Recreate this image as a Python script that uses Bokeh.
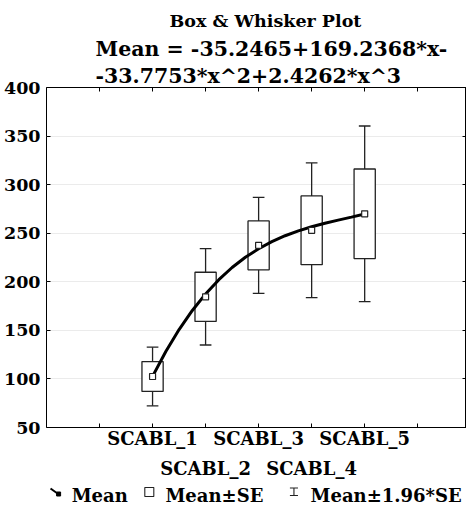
from bokeh.plotting import figure
from bokeh.layouts import column
from bokeh.models import (LinearAxis, FixedTicker, Range1d, Title)
from bokeh.core.properties import value
from bokeh.embed import file_html
from bokeh.resources import INLINE

# ---- data ----
categories = ["SCABL_1", "SCABL_2", "SCABL_3", "SCABL_4", "SCABL_5"]
positions = [1, 2, 3, 4, 5]
means = [102.5, 184.5, 237.5, 253.0, 270.0]
se = [15.4, 25.3, 25.2, 35.4, 46.1]
fit_x = [1.0, 1.25, 1.5, 1.75, 2.0, 2.25, 2.5, 2.75, 3.0,
         3.25, 3.5, 3.75, 4.0, 4.25, 4.5, 4.75, 5.0]
fit_y = [102.6, 128.3, 150.8, 170.5, 187.5, 202.2, 214.7, 225.2, 234.0,
         241.3, 247.4, 252.4, 256.6, 260.2, 263.5, 266.6, 269.8]
y_ticks = [50, 100, 150, 200, 250, 300, 350, 400]
x_ticks = [0, 1, 2, 3, 4, 5, 6]
title_lines = ["Box & Whisker Plot",
               "Mean = -35.2465+169.2368*x-",
               "-33.7753*x^2+2.4262*x^3"]
legend_labels = ["Mean", "Mean±SE", "Mean±1.96*SE"]

FONT = "DejaVu Serif"
INK = "#222222"

p = figure(width=466, height=481, x_range=Range1d(-1, 6.92), y_range=Range1d(50, 400),
           output_backend="svg", toolbar_location=None,
           min_border_left=46, min_border_right=0, min_border_top=87, min_border_bottom=0)
p.outline_line_color = "black"
p.outline_line_width = 1
p.background_fill_color = "white"
p.xgrid.visible = False
p.ygrid.ticker = FixedTicker(ticks=y_ticks)
p.ygrid.grid_line_color = "#ebebeb"

# y axis
ya = p.yaxis[0]
ya.ticker = FixedTicker(ticks=y_ticks)
ya.axis_line_color = None
ya.major_tick_in = 4
ya.major_tick_out = 0
ya.minor_tick_in = 0
ya.minor_tick_out = 0
ya.major_label_standoff = 6
ya.major_label_text_font = FONT
ya.major_label_text_font_style = "bold"
ya.major_label_text_font_size = "17.5px"
ya.major_label_text_color = "black"

# bottom axis row 1
xa = p.xaxis[0]
xa.ticker = FixedTicker(ticks=x_ticks)
xa.major_label_overrides = {0: "", 1: categories[0], 2: "", 3: categories[2], 4: "",
                            5: categories[4], 6: ""}
xa.axis_line_color = None
xa.major_tick_in = 4
xa.major_tick_out = 0
xa.minor_tick_in = 0
xa.minor_tick_out = 0
xa.major_label_standoff = 0
xa.major_label_text_font = FONT
xa.major_label_text_font_style = "bold"
xa.major_label_text_font_size = "18px"
xa.major_label_text_color = "black"

# bottom axis row 2
xa2 = LinearAxis(ticker=FixedTicker(ticks=[2, 4]),
                 major_label_overrides={2: categories[1], 4: categories[3]},
                 axis_line_color=None, major_tick_in=0, major_tick_out=0,
                 minor_tick_in=0, minor_tick_out=0, major_label_standoff=6,
                 major_label_text_font=FONT, major_label_text_font_style="bold",
                 major_label_text_font_size="18px", major_label_text_color="black")
p.add_layout(xa2, "below")

# top and right tick-only axes
top = LinearAxis(ticker=FixedTicker(ticks=x_ticks), axis_line_color=None,
                 major_tick_in=4, major_tick_out=0, minor_tick_in=0, minor_tick_out=0,
                 major_label_text_font_size="0px", major_label_standoff=7)
p.add_layout(top, "above")
right = LinearAxis(ticker=FixedTicker(ticks=y_ticks), axis_line_color=None,
                   major_tick_in=4, major_tick_out=0, minor_tick_in=0, minor_tick_out=0,
                   major_label_text_font_size="0px", major_label_standoff=0)
p.add_layout(right, "right")

# titles: p.title is outermost; added ones stack outward from the frame
p.title.text = title_lines[0]
p.title.align = "left"
p.title.offset = 123
p.title.standoff = 7
p.title.text_font = FONT
p.title.text_font_style = "bold"
p.title.text_font_size = "17.5px"
p.title.text_color = "black"
for line, so in [(title_lines[2], 0), (title_lines[1], 1)]:
    p.add_layout(Title(text=line, align="left", offset=49, standoff=so, text_font=FONT,
                       text_font_style="bold", text_font_size="20.5px",
                       text_color="black"), "above")

# boxes and whiskers
lo_se = [m - s for m, s in zip(means, se)]
hi_se = [m + s for m, s in zip(means, se)]
lo_ci = [m - 1.96 * s for m, s in zip(means, se)]
hi_ci = [m + 1.96 * s for m, s in zip(means, se)]
bw = 0.2
cw = 0.11

p.segment(x0=positions + positions, x1=positions + positions,
          y0=hi_se + lo_se, y1=hi_ci + lo_ci, line_color=INK, line_width=1.3)
p.segment(x0=[x - cw for x in positions] * 2, x1=[x + cw for x in positions] * 2,
          y0=hi_ci + lo_ci, y1=hi_ci + lo_ci, line_color=INK, line_width=1.3)
p.quad(left=[x - bw for x in positions], right=[x + bw for x in positions],
       bottom=lo_se, top=hi_se, fill_color="white", line_color=INK, line_width=1.3)

p.line(fit_x, fit_y, line_color="black", line_width=3)
p.scatter(positions, means, marker="square", size=6, fill_color="white",
          line_color=INK, line_width=1.2)

# legend strip: its frame lines up with the main frame (page x 50 .. 466.7)
lg = figure(width=466, height=28, x_range=Range1d(50, 466.7), y_range=Range1d(0, 28),
            output_backend="svg", toolbar_location=None,
            x_axis_location=None, y_axis_location=None,
            min_border_left=0, min_border_right=0, min_border_top=0, min_border_bottom=0)
lg.outline_line_color = None
lg.grid.visible = False
lg.background_fill_color = "white"

text_x = [75, 168, 312]
lg.text(x=text_x, y=[14, 14, 14], text=legend_labels, text_font=value(FONT),
        text_font_style="bold", text_font_size="18px", text_color="black",
        text_baseline="alphabetic", text_align="left")
# Mean icon: short diagonal line ending in a dot
lg.segment(x0=[54], y0=[21], x1=[63], y1=[14.5], line_color="black", line_width=2)
lg.scatter(x=[62], y=[15.5], marker="square", size=4, fill_color="black", line_color="black")
# Mean±SE icon: small box
lg.scatter(x=[152], y=[17.5], marker="square", size=9, fill_color="white",
           line_color=INK, line_width=1.1)
# Mean±1.96*SE icon: whisker
lg.segment(x0=[295.5, 291.5, 291.5], y0=[14, 14, 21.5], x1=[295.5, 299.5, 299.5],
           y1=[21.5, 14, 21.5], line_color=INK, line_width=1.1)

open("out.html", "w").write(file_html(column(p, lg), INLINE))
